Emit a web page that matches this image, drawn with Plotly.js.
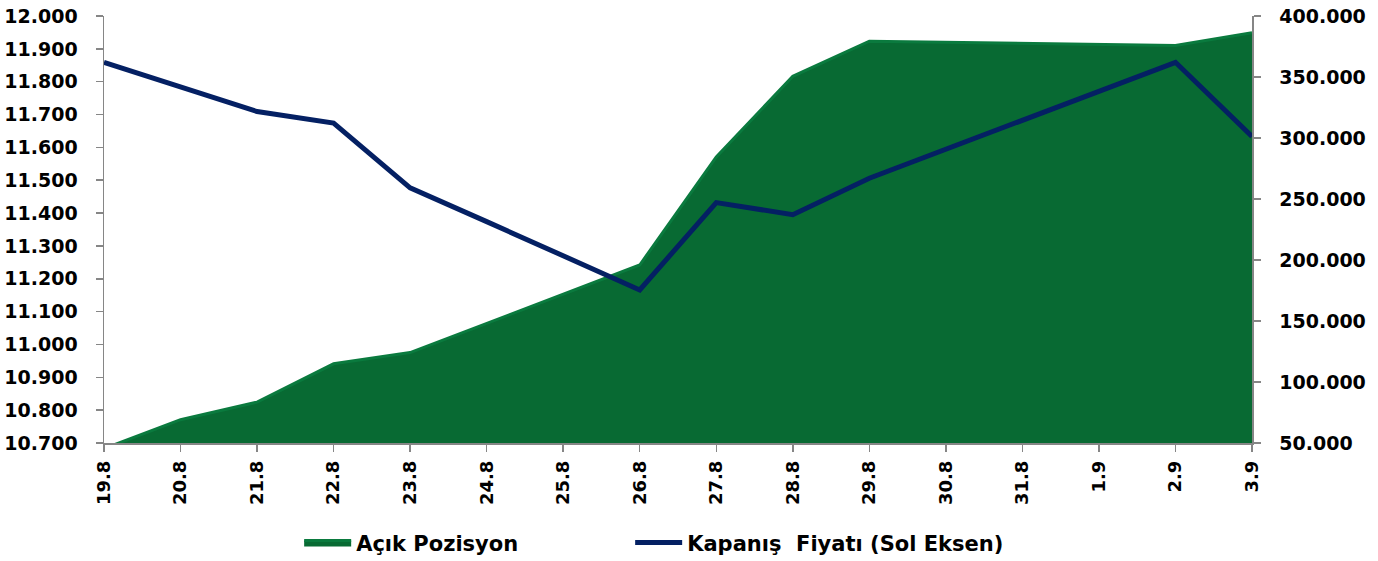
<!DOCTYPE html>
<html>
<head>
<meta charset="utf-8">
<script src="https://cdn.plot.ly/plotly-3.0.1.min.js"></script>
<style>html,body{margin:0;padding:0;background:#fff;}#chart{width:1378px;height:561px;}</style>
</head>
<body>
<div id="chart"></div>
<script>
const categories = ["19.8","20.8","21.8","22.8","23.8","24.8","25.8","26.8","27.8","28.8","29.8","30.8","31.8","1.9","2.9","3.9"];
const acikPozisyon = [45400, 69100, 83500, 114900, 124100, 148000, 172000, 195900, 284500, 350600, 379400, 378500, 377600, 376800, 375900, 386300];
const kapanisFiyati = [11859, 11784, 11709, 11674, 11477, 11374, 11270, 11166, 11432, 11395, 11506, 11595, 11684, 11772, 11859, 11633];
const seriesNames = ["Açık Pozisyon", "Kapanış  Fiyatı (Sol Eksen)"];

const FONT = "DejaVu Sans, Arial, sans-serif";

// Area on base axis (right side), line on overlaying axis (left side) so it draws on top
const traces = [
  {
    x: categories, y: acikPozisyon, name: seriesNames[0], yaxis: "y",
    type: "scatter", mode: "lines", fill: "tozeroy",
    fillcolor: "#086a33", line: {color: "#0a7a3e", width: 3},
    legendwidth: 269
  },
  {
    x: categories, y: kapanisFiyati, name: seriesNames[1], yaxis: "y2",
    type: "scatter", mode: "lines",
    line: {color: "#042063", width: 5},
    legendwidth: 330
  }
];

const axisFont = {family: FONT, size: 19, color: "#000", weight: "bold"};

const layout = {
  width: 1378, height: 561,
  margin: {l: 103.5, r: 126, t: 16, b: 118, autoexpand: false},
  paper_bgcolor: "#fff", plot_bgcolor: "#fff",
  separators: ",.",
  showlegend: true,
  legend: {
    orientation: "h", x: 0.17, xanchor: "left", y: -0.234, yanchor: "middle",
    font: {family: FONT, size: 21, color: "#000", weight: "bold"},
    itemwidth: 47, traceorder: "normal"
  },
  xaxis: {
    type: "category", range: [0, 15], showgrid: false, zeroline: false,
    showline: true, linecolor: "#868686", linewidth: 1.5,
    ticks: "outside", ticklen: 7, tickcolor: "#868686", tickwidth: 1.5,
    tickangle: -90, tickfont: {family: FONT, size: 18, color: "#000", weight: "bold"},
    ticklabelstandoff: 2, automargin: false
  },
  yaxis: {
    side: "right",
    range: [50000, 400000], dtick: 50000, tick0: 50000, tickformat: ",d",
    showgrid: false, zeroline: false,
    showline: true, linecolor: "#868686", linewidth: 1.5,
    ticks: "outside", ticklen: 7, tickcolor: "#868686", tickwidth: 1.5,
    tickfont: axisFont, ticklabelstandoff: 15, automargin: false
  },
  yaxis2: {
    overlaying: "y", side: "left",
    range: [10700, 12000], dtick: 100, tick0: 10700, tickformat: ",d",
    showgrid: false, zeroline: false,
    showline: true, linecolor: "#868686", linewidth: 1.5,
    ticks: "outside", ticklen: 7, tickcolor: "#868686", tickwidth: 1.5,
    tickfont: axisFont, ticklabelstandoff: 14, automargin: false
  }
};

Plotly.newPlot("chart", traces, layout, {displayModeBar: false, staticPlot: true});
</script>
</body>
</html>
